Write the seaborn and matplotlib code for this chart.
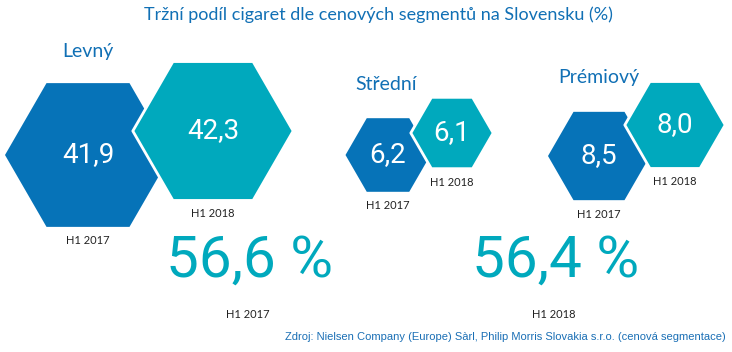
import pandas as pd
import matplotlib
matplotlib.use("Agg")
import matplotlib.pyplot as plt
import seaborn as sns

# data
segments = ["Levný", "Střední", "Prémiový"]
periods = ["H1 2017", "H1 2018"]
share_2017 = [41.9, 6.2, 8.5]
share_2018 = [42.3, 6.1, 8.0]

title = "Tržní podíl cigaret dle cenových segmentů na Slovensku (%)"
source = "Zdroj: Nielsen Company (Europe) Sàrl, Philip Morris Slovakia s.r.o. (cenová segmentace)"

# layout in pixel space (figure is 732x352)
hex_x = {"H1 2017": [88, 388, 599], "H1 2018": [213, 452, 675]}
hex_y = {"H1 2017": [155, 155, 156], "H1 2018": [131, 133, 125]}
hex_w = {"H1 2017": [166, 85, 102], "H1 2018": [159, 81, 99]}
seg_label_pos = [(62, 51), (355, 84), (558, 78)]
total_x = [250, 556]

dark_blue = "#0673B8"
teal = "#00A9BD"
colors = {"H1 2017": dark_blue, "H1 2018": teal}

rows = []
for period, vals in zip(periods, [share_2017, share_2018]):
    for i, seg in enumerate(segments):
        rows.append({"segment": seg, "period": period, "share": vals[i],
                     "x": hex_x[period][i], "y": hex_y[period][i],
                     "w": hex_w[period][i]})
df = pd.DataFrame(rows)
totals = df.groupby("period", sort=False)["share"].sum()

sns.set_theme(style="white")
plt.rcParams["font.family"] = ["Lato", "DejaVu Sans"]
num_font = ["Roboto", "DejaVu Sans"]

fig = plt.figure(figsize=(7.32, 3.52), dpi=100)
ax = fig.add_axes([0, 0, 1, 1])
ax.set_xlim(0, 732)
ax.set_ylim(352, 0)
ax.axis("off")

px = 72 / fig.dpi  # pixel -> point
for period in periods:
    sub = df[df["period"] == period]
    lw = 0 if period == "H1 2017" else 2.0
    sizes = ((sub["w"] * px + lw / 2) ** 2).to_numpy()
    sns.scatterplot(data=sub, x="x", y="y", marker="H", s=sizes,
                    color=colors[period], edgecolor="white", linewidth=lw,
                    legend=False, ax=ax, zorder=2 if period == "H1 2017" else 3)

for _, r in df.iterrows():
    ax.text(r["x"], r["y"], f"{r['share']:.1f}".replace(".", ","),
            ha="center", va="center", color="white", fontsize=20,
            family=num_font, zorder=5)
    ax.text(r["x"], r["y"] + 0.433 * r["w"] + 14, r["period"],
            ha="center", va="center", color="#222222", fontsize=8, zorder=5)

for seg, (sx, sy) in zip(segments, seg_label_pos):
    ax.text(sx, sy, seg, ha="left", va="center", color="#1170B5", fontsize=14)

for period, tx in zip(periods, total_x):
    ax.text(tx, 261, f"{totals[period]:.1f}".replace(".", ",") + " %",
            ha="center", va="center", color=teal, fontsize=42, family=num_font)
    ax.text(tx - 2, 314, period, ha="center", va="center",
            color="#222222", fontsize=8)

ax.text(378, 15, title, ha="center", va="center", color="#1170B5", fontsize=13)
ax.text(726, 337, source, ha="right", va="center", color="#1A6FB5",
        fontsize=8, family=["Liberation Sans Narrow", "Liberation Sans", "DejaVu Sans"])

fig.savefig("out.png", dpi=100)
